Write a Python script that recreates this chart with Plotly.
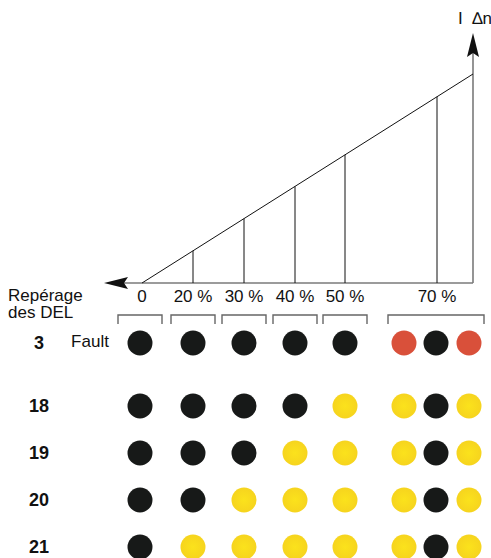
import plotly.graph_objects as go

W, H = 491, 558

# ---- data ----
threshold_labels = ["0", "20 %", "30 %", "40 %", "50 %", "70 %"]
threshold_x = [142, 193, 244, 295, 345, 437]

row_ids = ["3", "18", "19", "20", "21"]
row_y = [343, 406, 453, 500, 547]
row_extra = ["Fault", "", "", "", ""]

dot_x = [140, 193, 244, 295, 345, 404, 436, 469]
states = [
    ["B", "B", "B", "B", "B", "R", "B", "R"],
    ["B", "B", "B", "B", "Y", "Y", "B", "Y"],
    ["B", "B", "B", "Y", "Y", "Y", "B", "Y"],
    ["B", "B", "Y", "Y", "Y", "Y", "B", "Y"],
    ["B", "Y", "Y", "Y", "Y", "Y", "B", "Y"],
]
bracket_spans = [(118, 162), (171, 215), (222, 266), (273, 317), (323, 367), (388, 484)]

# axis geometry
origin = (142, 283)
axis_left = 104
axis_right = 473
axis_top = 33
ramp_end = (473, 74)

colors = {"B": "#171918", "R": "#d9503a", "Y": "#f6d41e"}
centers = {"B": "#171918", "R": "#d9503a", "Y": "#fbe21c"}

fig = go.Figure()
shapes = []
line_gray = dict(color="#7a7a7a", width=1.6)
line_blk = dict(color="#111111", width=1)

# axes
shapes.append(dict(type="line", x0=axis_left + 20, y0=origin[1], x1=axis_right, y1=origin[1], line=line_gray))
shapes.append(dict(type="line", x0=axis_right, y0=origin[1], x1=axis_right, y1=axis_top + 20, line=line_gray))
# arrowheads
ax, ay = axis_left, origin[1]
shapes.append(dict(type="path",
                   path=f"M{ax},{ay} L{ax+24},{ay-6} L{ax+20},{ay} L{ax+24},{ay+6} Z",
                   fillcolor="#111111", line=dict(width=0)))
ux, uy = axis_right, axis_top
shapes.append(dict(type="path",
                   path=f"M{ux},{uy} L{ux-6},{uy+24} L{ux},{uy+20} L{ux+6},{uy+24} Z",
                   fillcolor="#111111", line=dict(width=0)))
# ramp
shapes.append(dict(type="line", x0=origin[0], y0=origin[1], x1=ramp_end[0], y1=ramp_end[1], line=line_blk))
slope = (ramp_end[1] - origin[1]) / (ramp_end[0] - origin[0])
for x in threshold_x[1:]:
    ytop = origin[1] + slope * (x - origin[0])
    shapes.append(dict(type="line", x0=x, y0=origin[1], x1=x, y1=ytop, line=line_blk))

# brackets
for a, b in bracket_spans:
    shapes.append(dict(type="path", path=f"M{a},324 L{a},315 L{b},315 L{b},324",
                       line=dict(color="#666666", width=1.4)))

fig.update_layout(shapes=shapes)

# dots
for key in ["B", "R", "Y"]:
    xs, ys = [], []
    for i, row in enumerate(states):
        for j, s in enumerate(row):
            if s == key:
                xs.append(dot_x[j])
                ys.append(row_y[i])
    fig.add_trace(go.Scatter(
        x=xs, y=ys, mode="markers", hoverinfo="skip",
        marker=dict(size=25, color=colors[key], line=dict(width=0),
                    gradient=dict(type="radial", color=centers[key])),
    ))

font = "Liberation Sans, Arial, sans-serif"
# threshold labels
fig.add_trace(go.Scatter(x=threshold_x, y=[298] * len(threshold_x), mode="text",
                         text=threshold_labels, textfont=dict(family=font, size=17, color="#111"),
                         hoverinfo="skip"))
# row labels
fig.add_trace(go.Scatter(x=[39] * len(row_ids), y=[y + 1 for y in row_y], mode="text",
                         text=[f"<b>{r}</b>" for r in row_ids],
                         textfont=dict(family=font, size=18, color="#111"), hoverinfo="skip"))
fig.add_trace(go.Scatter(x=[90], y=[row_y[0]], mode="text", text=[row_extra[0]],
                         textfont=dict(family=font, size=17, color="#111"), hoverinfo="skip"))

anns = [
    dict(x=6, y=295, text="Repérage", xanchor="left", yanchor="middle"),
    dict(x=6, y=312, text="des DEL", xanchor="left", yanchor="middle"),
    dict(x=475, y=18, text="I\u00a0\u00a0∆n", xanchor="center", yanchor="middle"),
]
for a in anns:
    a.update(showarrow=False, xref="x", yref="y", font=dict(family=font, size=17, color="#111"))
fig.update_layout(annotations=anns)

fig.update_layout(
    width=W, height=H, margin=dict(l=0, r=0, t=0, b=0),
    paper_bgcolor="white", plot_bgcolor="white", showlegend=False,
    xaxis=dict(range=[0, W], visible=False, fixedrange=True),
    yaxis=dict(range=[H, 0], visible=False, fixedrange=True),
)
fig.write_html("out.html", config={"displayModeBar": False},
               post_script="document.body.style.margin='0';document.body.style.overflow='hidden';")
